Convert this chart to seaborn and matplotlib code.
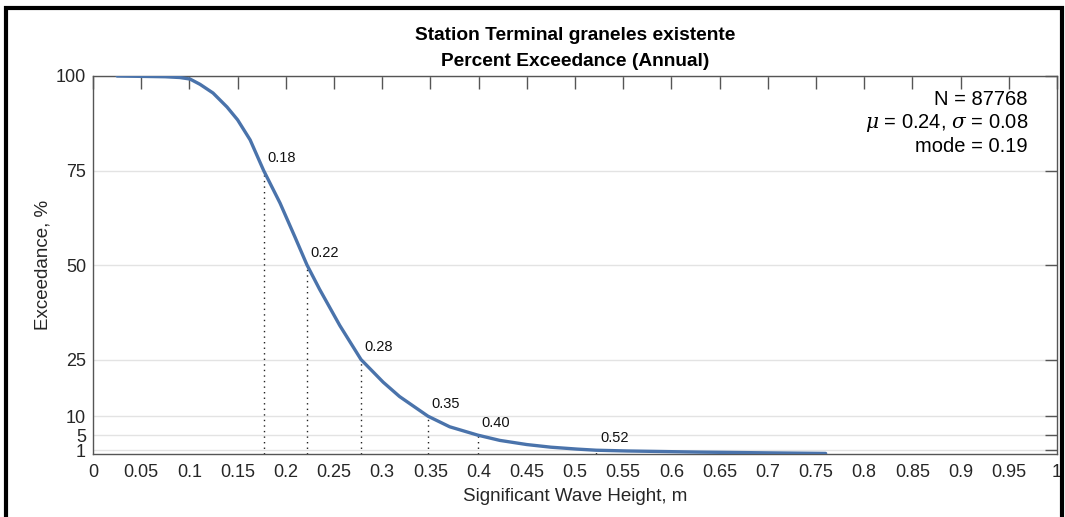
import numpy as np
import pandas as pd
import matplotlib
matplotlib.use("Agg")
import matplotlib.pyplot as plt
import seaborn as sns
from matplotlib.patches import Rectangle

# ---- data ----
wave_height = [0.025, 0.05, 0.075, 0.090, 0.1006, 0.111, 0.1245, 0.139, 0.150, 0.163,
               0.177, 0.194, 0.2095, 0.222, 0.235, 0.256, 0.278, 0.301, 0.318, 0.3475,
               0.370, 0.399, 0.422, 0.450, 0.475, 0.502, 0.522, 0.554, 0.63, 0.70, 0.76]
exceedance = [100, 99.9, 99.8, 99.6, 99.2, 97.8, 95.5, 91.8, 88.4, 83.1,
              75, 66.4, 57.4, 50, 43.6, 34.0, 25, 19.0, 15.2, 10,
              7.2, 5, 3.6, 2.5, 1.8, 1.3, 1.0, 0.8, 0.5, 0.3, 0.15]
mark_levels = [75, 50, 25, 10, 5, 1]
mark_heights = [0.177, 0.222, 0.278, 0.3475, 0.399, 0.522]
mark_labels = ["0.18", "0.22", "0.28", "0.35", "0.40", "0.52"]
x_ticks = [round(0.05 * i, 2) for i in range(21)]
y_ticks = [1, 5, 10, 25, 50, 75, 100]
stats_lines = ["N = 87768", r"$\mu$ = 0.24, $\sigma$ = 0.08", "mode = 0.19"]
title_lines = ["Station Terminal graneles existente", "Percent Exceedance (Annual)"]

sns.set_theme(style="white")
plt.rcParams['font.family'] = ['Liberation Sans', 'DejaVu Sans']
plt.rcParams['mathtext.fontset'] = 'dejavuserif'

W, H = 1065, 517
fig = plt.figure(figsize=(W / 100, H / 100), dpi=100)
ax = fig.add_axes([93 / W, 1 - 454 / H, (1057 - 93) / W, (454 - 76) / H])

df = pd.DataFrame({"h": wave_height, "e": exceedance})
sns.lineplot(data=df, x="h", y="e", ax=ax, color="#4a73ab", linewidth=2.4, zorder=3)
ax.lines[-1].set_solid_joinstyle("round")
ax.lines[-1].set_solid_capstyle("round")

for lv, hx, lab in zip(mark_levels, mark_heights, mark_labels):
    ax.plot([hx, hx], [0, lv], linestyle=(0, (1, 3)), color="#222222", linewidth=1.0, zorder=2)
    ax.text(hx + 0.004, lv + 3.3, lab, fontsize=10.5, ha="left", va="center", color="#111111")

ax.set_xlim(0, 1)
ax.set_ylim(0, 100)
ax.set_xticks(x_ticks)
ax.set_xticklabels([("%g" % t) for t in x_ticks])
ax.set_yticks(y_ticks)
ax.set_yticklabels([str(t) for t in y_ticks])
ax.yaxis.grid(True, color="#e3e3e3", linewidth=1.0)
ax.xaxis.grid(False)
ax.set_axisbelow(True)

for s in ax.spines.values():
    s.set_color("#555555")
    s.set_linewidth(1.0)
ax.tick_params(axis="both", direction="in", length=9, width=1.0, color="#555555",
               labelsize=13, labelcolor="#262626", top=True, right=True, pad=7)
ax.tick_params(axis="y", pad=5)

ax.set_xlabel("Significant Wave Height, m", fontsize=13.5, color="#262626", labelpad=5)
ax.set_ylabel("Exceedance, %", fontsize=13.5, color="#262626", labelpad=3)

fig.text((93 + 1057) / 2 / W, 1 - 35 / H, title_lines[0], ha="center", va="center",
         fontsize=13.8, fontweight="bold", color="black")
fig.text((93 + 1057) / 2 / W, 1 - 61 / H, title_lines[1], ha="center", va="center",
         fontsize=13.8, fontweight="bold", color="black")

ax.text((1028 - 93) / 964, (454 - 90) / 378, "\n".join(stats_lines), transform=ax.transAxes,
        ha="right", va="top", fontsize=14.5, color="black", linespacing=1.2)

# figure frame (black border as in the reference)
fig.patches.append(Rectangle((5.5 / W, -0.05), (1062 - 5.5) / W, 1 - 7.5 / H + 0.05,
                             transform=fig.transFigure, fill=False, edgecolor="black",
                             linewidth=3, zorder=10))

fig.savefig("out.png", dpi=100)
